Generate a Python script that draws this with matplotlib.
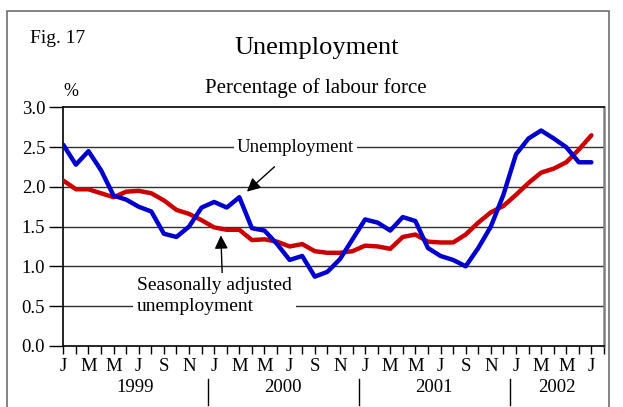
import matplotlib
matplotlib.use("Agg")
import matplotlib.pyplot as plt
from matplotlib.patches import Rectangle
import matplotlib.transforms as mtransforms

plt.rcParams['font.family'] = ['Liberation Serif', 'DejaVu Serif']

# monthly data, Jan 1999 - Jul 2002
unemployment = [2.53, 2.28, 2.45, 2.21, 1.89, 1.84, 1.75, 1.69, 1.41, 1.37, 1.50, 1.74,
                1.81, 1.74, 1.87, 1.48, 1.45, 1.28, 1.08, 1.13, 0.87, 0.93, 1.09, 1.34,
                1.59, 1.55, 1.45, 1.62, 1.57, 1.23, 1.13, 1.08, 1.00, 1.23, 1.50, 1.90,
                2.41, 2.61, 2.71, 2.61, 2.50, 2.31, 2.31]
seas_adjusted = [2.08, 1.97, 1.97, 1.92, 1.87, 1.94, 1.95, 1.92, 1.83, 1.71, 1.66, 1.58,
                 1.49, 1.46, 1.46, 1.33, 1.34, 1.31, 1.25, 1.28, 1.19, 1.17, 1.17, 1.19,
                 1.26, 1.25, 1.22, 1.37, 1.40, 1.31, 1.30, 1.30, 1.40, 1.55, 1.68, 1.76,
                 1.90, 2.05, 2.18, 2.23, 2.31, 2.47, 2.65]
month_letters = ['J', 'F', 'M', 'A', 'M', 'J', 'J', 'A', 'S', 'O', 'N', 'D']
years = ['1999', '2000', '2001', '2002']
yticks = [0.0, 0.5, 1.0, 1.5, 2.0, 2.5, 3.0]

BLUE = '#0000cc'
RED = '#cc0000'

fig = plt.figure(figsize=(6.23, 4.07), dpi=100)
ax = fig.add_axes([0.1016, 0.1506, 0.8679, 0.5853])

# frame around the whole figure
fig.patches.append(Rectangle((0.011, -0.1), 0.9665, 1.073, transform=fig.transFigure,
                             fill=False, edgecolor='#707070', lw=1.2))

months = list(range(len(unemployment)))
for y in yticks[1:-1]:
    ax.axhline(y, color='#303030', lw=1.0, zorder=1)
ax.plot(months, seas_adjusted, color=RED, lw=3.2, solid_capstyle='round', zorder=3)
ax.plot(months, unemployment, color=BLUE, lw=3.2, solid_capstyle='round', zorder=4)

ax.set_xlim(0, 43)
ax.set_ylim(0, 3)
ax.set_yticks(yticks)
ax.set_yticklabels(['%.1f' % v for v in yticks], fontsize=13.5)
ticks = list(range(44))
ax.set_xticks(ticks)
ax.set_xticklabels([month_letters[t % 12] if t % 2 == 0 and t < 43 else '' for t in ticks],
                   fontsize=13.5)
ax.tick_params(axis='x', direction='out', length=6, width=1, pad=3)
ax.tick_params(axis='y', direction='out', length=10, width=1, pad=3)
for s in ['left', 'top', 'bottom']:
    ax.spines[s].set_color('black')
    ax.spines[s].set_linewidth(1.2)
ax.spines['right'].set_color('#808080')
ax.spines['right'].set_linewidth(1.8)

# year labels and separators under the axis
trans = mtransforms.blended_transform_factory(ax.transData, ax.transAxes)
for k, yr in enumerate(years):
    start = 12 * k - 0.5
    end = min(12 * k + 11.5, 43)
    ax.text((max(start, 0) + end) / 2, -0.175, yr, transform=trans, fontsize=13.5,
            ha='center', va='center')
    if k > 0:
        ax.plot([start, start], [-0.14, -0.25], color='black', lw=1, transform=trans,
                clip_on=False)

# annotations
ax.annotate('Unemployment', xy=(14.6, 1.94), xytext=(18.45, 2.49), fontsize=13.5,
            ha='center', va='center', zorder=5,
            bbox=dict(boxstyle='square,pad=0.15', fc='white', ec='none'),
            arrowprops=dict(arrowstyle='-|>', color='black', lw=1, mutation_scale=20,
                            shrinkA=8, shrinkB=0))
ax.annotate('Seasonally adjusted\nunemployment', xy=(12.53, 1.39), xytext=(5.87, 0.625),
            fontsize=14, ha='left', va='center', multialignment='left', linespacing=1.35,
            zorder=5, bbox=dict(boxstyle='square,pad=0.2', fc='white', ec='none'),
            arrowprops=dict(arrowstyle='-|>', color='black', lw=1, mutation_scale=20,
                            shrinkA=0, shrinkB=0, relpos=(0.55, 1.0)))

fig.text(0.048, 0.905, 'Fig. 17', fontsize=14, ha='left', va='center')
fig.text(0.509, 0.882, 'Unemployment', fontsize=19, ha='center', va='center')
fig.text(0.507, 0.784, 'Percentage of labour force', fontsize=15, ha='center', va='center')
fig.text(0.113, 0.774, '%', fontsize=13, ha='center', va='center')

fig.savefig('out.png', dpi=100)
